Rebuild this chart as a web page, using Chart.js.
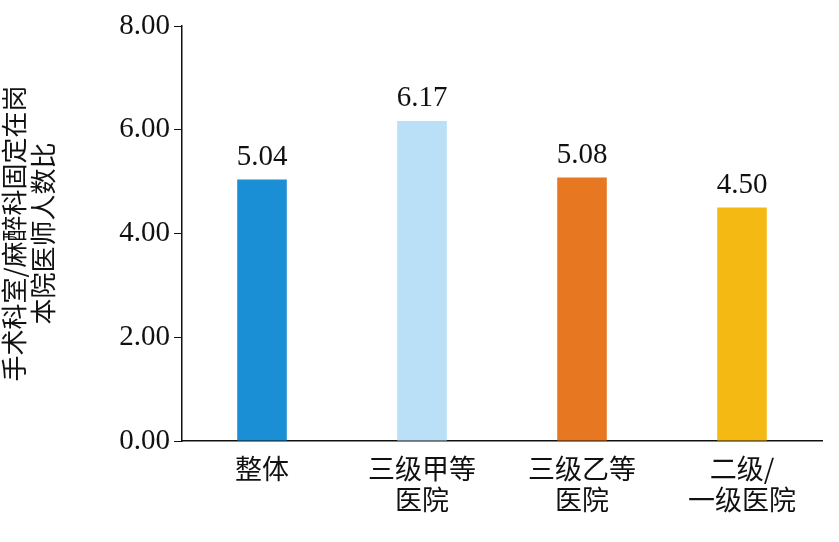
<!DOCTYPE html>
<html><head><meta charset="utf-8">
<script src="https://cdn.jsdelivr.net/npm/chart.js@4"></script>
<style>html,body{margin:0;background:#fff}#c{width:839px;height:542px}</style>
</head><body><div id="c"><canvas id="cv" width="839" height="542"></canvas></div>
<script>
const categories=[["整体"],["三级甲等","医院"],["三级乙等","医院"],["二级/","一级医院"]];
const values=[5.04,6.17,5.08,4.50];
const colors=["#1a8fd6","#b9e0f7","#e87722","#f5b914"];
const yTitle=["手术科室/麻醉科固定在岗","本院医师人数比"];
const labelPlugin={id:'lbl',afterDatasetsDraw(ch){const c=ch.ctx;c.save();c.font='29px "Liberation Serif"';c.fillStyle='#111';c.textAlign='center';c.textBaseline='bottom';
ch.getDatasetMeta(0).data.forEach((b,i)=>c.fillText(values[i].toFixed(2),b.x,b.y-8));c.restore();}};
new Chart(document.getElementById('cv'),{type:'bar',
data:{labels:categories,datasets:[{data:values,backgroundColor:colors,categoryPercentage:1,barPercentage:0.31}]},
options:{responsive:false,animation:false,devicePixelRatio:1,
layout:{padding:{top:26,right:17,left:0,bottom:0}},
plugins:{legend:{display:false},tooltip:{enabled:false}},
scales:{
x:{afterFit:s=>{s.height=101;},grid:{display:false,drawTicks:false},border:{color:'#111',width:1.5},
ticks:{color:'#111',font:{family:'"Noto Sans CJK SC"',size:27,lineHeight:1.15},padding:12}},
y:{afterFit:s=>{s.width=182;},min:0,max:8,grid:{drawOnChartArea:false,color:'#111',tickLength:8},border:{color:'#111',width:1.5},
ticks:{stepSize:2,color:'#111',font:{family:'"Liberation Serif"',size:29},callback:v=>v.toFixed(2),padding:4},
title:{display:true,text:yTitle,color:'#111',padding:{top:0,bottom:4},font:{family:'"Noto Sans CJK SC"',size:26,lineHeight:1.1}}}}},
plugins:[labelPlugin]});
</script></body></html>
